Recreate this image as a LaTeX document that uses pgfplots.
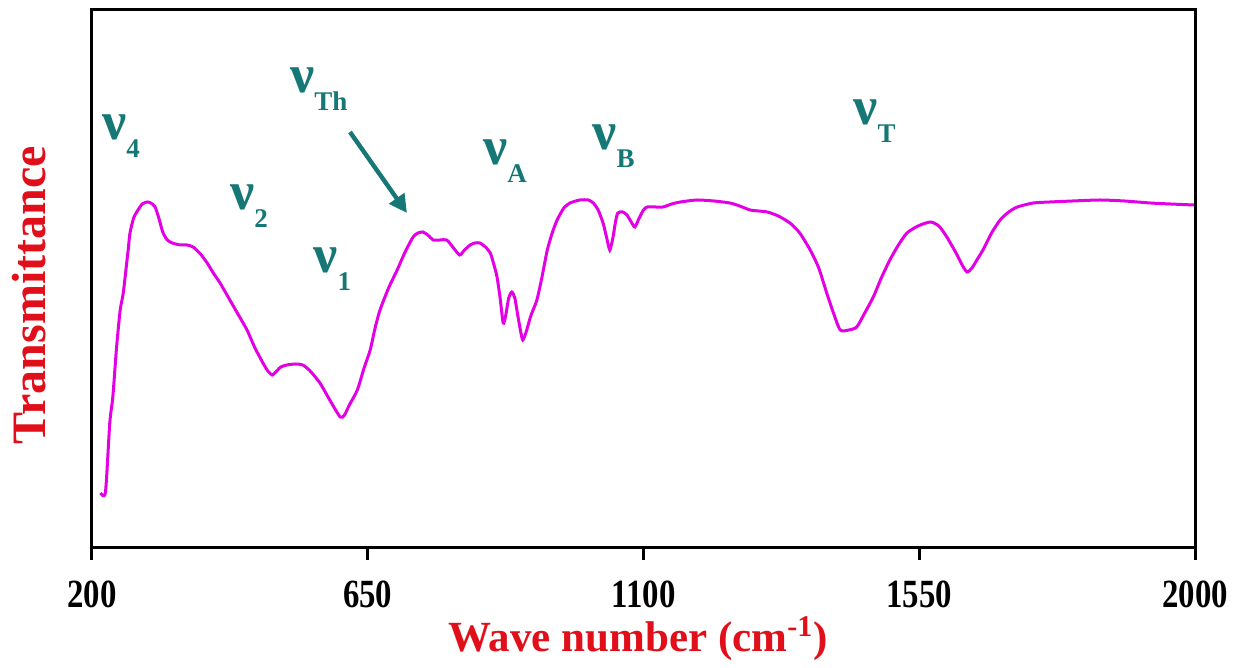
\documentclass[border=0pt]{standalone}
\usepackage{fontspec}
\setmainfont{Liberation Serif}
\newfontfamily\narrowfont{Liberation Serif}[FakeStretch=0.82]
\usepackage{pgfplots}
\pgfplotsset{compat=1.18}
\usetikzlibrary{arrows.meta}
\definecolor{curve}{RGB}{228,0,228}
\definecolor{lab}{RGB}{22,120,118}
\definecolor{axred}{RGB}{225,15,25}
\newcommand{\nulab}[1]{{\fontsize{27}{27}\selectfont\bfseries ν}\raisebox{-9pt}{\fontsize{13.5}{14}\selectfont\bfseries #1}}
\begin{document}
\begin{tikzpicture}
\begin{axis}[
  name=ax,
  scale only axis,
  width=551.5pt, height=269pt,
  xmin=200, xmax=2000, ymin=0, ymax=538,
  xtick={200,650,1100,1550,2000},
  xticklabels={200,650,1100,1550,2000},
  ytick=\empty,
  xtick pos=bottom,
  tick align=outside,
  major tick length=6pt,
  axis line style={line width=1.5pt, black},
  every tick/.style={black, line width=1.5pt},
  xticklabel style={font=\narrowfont\fontsize{20}{20}\selectfont\bfseries, anchor=base, inner sep=0pt, yshift=-24pt},
  xlabel={Wave number (cm\textsuperscript{-1})},
  every axis x label/.style={at={(axis description cs:0.495,-0.193)}, anchor=base, inner sep=0pt, font=\fontsize{21.5}{21.5}\selectfont\bfseries, text=axred},
  ylabel={Transmittance},
  every axis y label/.style={at={(axis description cs:-0.0426,0.47)}, anchor=base, rotate=90, font=\fontsize{24}{24}\selectfont\bfseries, text=axred},
  clip=false,
]
\addplot[curve, line width=1.5pt, smooth, tension=0.4] coordinates {
(214,55) (222,56) (229,125) (234,151) (240,200) (246,238) (251,255) (259,298) (262,315) (268,330) (275,338) (282,344) (290,346) (296,345) (303,341) (309,330) (316,315) (323,308) (331,305) (344,303) (355,303) (365,301) (377,294) (388,285) (398,275) (409,265) (425,248) (440,232) (453,218) (466,200) (479,185) (487,177) (494,173) (500,176) (508,181) (518,183) (532,184) (544,183) (556,177) (572,165) (588,148) (605,131) (612,133) (620,143) (633,158) (644,180) (654,198) (662,220) (670,238) (684,260) (698,278) (711,296) (724,311) (732,315) (740,316) (748,313) (757,308) (768,308) (779,308) (790,300) (800,293) (808,298) (817,303) (825,305) (833,305) (842,301) (850,295) (856,283) (861,271) (866,250) (871,225) (875,232) (880,250) (885,256) (890,250) (895,232) (900,215) (903,208) (908,215) (916,232) (926,248) (934,270) (943,298) (951,315) (959,328) (970,340) (980,345) (996,348) (1010,348) (1018,345) (1026,338) (1034,325) (1040,310) (1045,298) (1050,310) (1054,325) (1058,335) (1066,336) (1073,333) (1080,326) (1086,321) (1093,330) (1100,338) (1106,341) (1120,341) (1132,341) (1146,344) (1160,346) (1187,348) (1215,347) (1241,345) (1257,342) (1274,338) (1288,337) (1302,336) (1320,332) (1339,325) (1355,315) (1372,298) (1386,280) (1399,255) (1410,235) (1421,218) (1435,218) (1448,221) (1461,235) (1475,251) (1488,270) (1502,288) (1516,303) (1530,315) (1548,322) (1568,326) (1582,322) (1595,311) (1610,295) (1620,283) (1628,276) (1636,280) (1646,290) (1654,298) (1668,315) (1682,328) (1696,336) (1710,341) (1736,345) (1763,346) (1800,347) (1845,348) (1885,347) (1927,345) (1960,344) (1998,343)
};
\node[anchor=base west, inner sep=0pt, text=lab] at (axis cs:216,408) {\nulab{4}};
\node[anchor=base west, inner sep=0pt, text=lab] at (axis cs:425,338) {\nulab{2}};
\node[anchor=base west, inner sep=0pt, text=lab] at (axis cs:561,275) {\nulab{1}};
\node[anchor=base west, inner sep=0pt, text=lab] at (axis cs:523,455) {\nulab{Th}};
\node[anchor=base west, inner sep=0pt, text=lab] at (axis cs:838,383) {\nulab{A}};
\node[anchor=base west, inner sep=0pt, text=lab] at (axis cs:1016,398) {\nulab{B}};
\node[anchor=base west, inner sep=0pt, text=lab] at (axis cs:1442,423) {\nulab{T}};
\draw[lab, line width=2.2pt, -{Triangle[length=9pt,width=9pt]}] (axis cs:621,416) -- (axis cs:714,335);
\end{axis}
\pgfresetboundingbox
\path ([shift={(-46pt,-60pt)}]ax.south west) rectangle ([shift={(23pt,5pt)}]ax.north east);
\end{tikzpicture}
\end{document}
